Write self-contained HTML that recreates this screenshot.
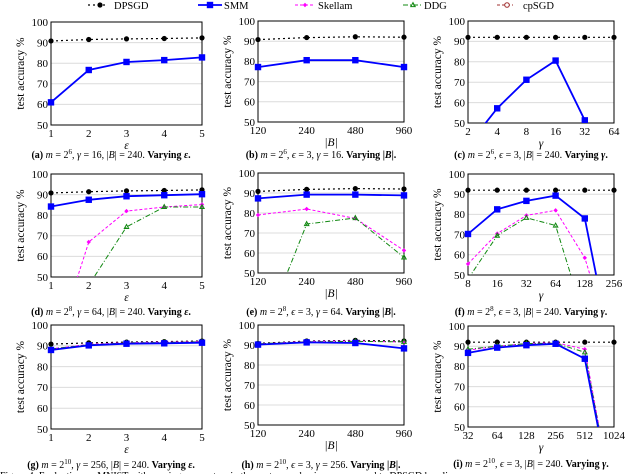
<!DOCTYPE html>
<html><head><meta charset="utf-8"><style>
html,body{margin:0;padding:0;background:#fff;width:640px;height:474px;overflow:hidden}
svg{display:block;overflow:hidden}
.tk{font-family:"Liberation Serif",serif;font-size:11px;fill:#000}
.yt{font-family:"Liberation Serif",serif;font-size:11.5px;fill:#000}
.cap{font-family:"Liberation Serif",serif;font-size:10px;fill:#000}
.lg{font-family:"Liberation Serif",serif;font-size:10.5px;fill:#000}
</style></head><body>
<svg id="fig" width="640" height="474" viewBox="0 0 640 474" xmlns="http://www.w3.org/2000/svg"></svg>
<script>
// ---- data ----
const epsTicks = [1,2,3,4,5];
const batchTicks = [120,240,480,960];
const gammaTicksC = [2,4,8,16,32,64];
const gammaTicksF = [8,16,32,64,128,256];
const gammaTicksI = [32,64,128,256,512,1024];
const yTicks = [50,60,70,80,90,100];

const aDPSGD = [90.8,91.5,91.8,92.0,92.3];
const aSMM = [61,76.7,80.6,81.5,82.8];
const bDPSGD = [90.8,91.8,92.2,92.0];
const bSMM = [77.2,80.6,80.6,77.2];
const cDPSGD = [92,92,92,92,92,92];
const cSMM = [39,57.2,71.2,80.6,51.3,null];

const dDPSGD = [90.8,91.4,91.8,92.0,92.3];
const dSMM = [84.2,87.5,89.2,89.7,90.2];
const dSkellam = [10,67,82,84,85.2];
const dDDG = [18,46,74.3,84,84];
const eDPSGD = [90.8,91.8,92.2,92.0];
const eSMM = [87.3,89.2,89.2,88.8];
const eSkellam = [79,82,77.3,61.3];
const eDDG = [13.5,74.5,77.5,57.8];
const fDPSGD = [92,92,92,92,92,92];
const fSMM = [70.3,82.5,86.7,89.3,78,6];
const fSkellam = [55.5,70.5,79.5,82,58.5,11];
const fDDG = [48,69.5,78.3,74.5,27.5,null];

const gDPSGD = [90.8,91.4,91.8,92.0,92.3];
const gSMM = [88,90.2,91,91.2,91.5];
const gSkellam = [88.5,90.7,91.5,91.8,92];
const gDDG = [88.5,90.5,91.4,91.6,91.9];
const hDPSGD = [90.8,92,92.3,92];
const hSMM = [90.2,91.3,91,88.3];
const hSkellam = [90.5,91.8,92,91.5];
const hDDG = [90.6,91.6,91.8,91.6];
const iDPSGD = [92,92,92,92,92,92];
const iSMM = [86.7,89.3,90.5,91.2,83.8,9];
const iSkellam = [88,90,91.3,91.8,88.5,10];
const iDDG = [88.5,90,91.3,91.5,87,10];

const NS='http://www.w3.org/2000/svg';
const svg=document.getElementById('fig');
function mk(tag,attrs,parent){const e=document.createElementNS(NS,tag);for(const k in attrs)e.setAttribute(k,attrs[k]);(parent||svg).appendChild(e);return e;}

const styles={
 DPSGD:{c:'#000',w:1.2,d:'2,3',m:'circle'},
 SMM:{c:'#0000ff',w:1.8,d:'',m:'square'},
 Skellam:{c:'#ff00ff',w:1,d:'3,2',m:'plus'},
 DDG:{c:'#118811',w:1,d:'5,2,1,2',m:'tri'}
};
function marker(g,type,x,y,c){
 let e;
 if(type==='circle') e=mk('circle',{cx:x,cy:y,r:2.6,fill:c},g);
 else if(type==='square') e=mk('rect',{x:x-3.2,y:y-3.2,width:6.4,height:6.4,fill:c},g);
 else if(type==='plus') e=mk('path',{d:`M${x-2.2},${y}L${x},${y-2.2}L${x+2.2},${y}L${x},${y+2.2}Z`,fill:c},g);
 else e=mk('path',{d:`M${x},${y-2.4}L${x+2.2},${y+1.6}L${x-2.2},${y+1.6}Z`,fill:'none',stroke:c,'stroke-width':1},g);
 return e;
}

const panels=[
 {id:'a',x0:51,x1:202,y0:22,y1:125,ticks:epsTicks,log:false,xt:'ε',series:{DPSGD:aDPSGD,SMM:aSMM},cx:111,cy:158,m:'6',rest:[['γ',' = 16, |'],['B','| = 240. ']],vary:'ε'},
 {id:'b',x0:258,x1:404,y0:21,y1:122,ticks:batchTicks,log:true,xt:'|B|',series:{DPSGD:bDPSGD,SMM:bSMM},cx:321,cy:158,m:'6',rest:[['ϵ',' = 3, '],['γ',' = 16. ']],vary:'|B|'},
 {id:'c',x0:468,x1:614,y0:21,y1:123,ticks:gammaTicksC,log:true,xt:'γ',series:{DPSGD:cDPSGD,SMM:cSMM},cx:531,cy:158,m:'6',rest:[['ϵ',' = 3, |'],['B','| = 240. ']],vary:'γ'},
 {id:'d',x0:51,x1:202,y0:174,y1:277,ticks:epsTicks,log:false,xt:'ε',series:{DPSGD:dDPSGD,Skellam:dSkellam,DDG:dDDG,SMM:dSMM},cx:111,cy:315,m:'8',rest:[['γ',' = 64, |'],['B','| = 240. ']],vary:'ε'},
 {id:'e',x0:258,x1:404,y0:173,y1:273,ticks:batchTicks,log:true,xt:'|B|',series:{DPSGD:eDPSGD,Skellam:eSkellam,DDG:eDDG,SMM:eSMM},cx:321,cy:315,m:'8',rest:[['ϵ',' = 3, '],['γ',' = 64. ']],vary:'|B|'},
 {id:'f',x0:468,x1:614,y0:174,y1:275,ticks:gammaTicksF,log:true,xt:'γ',series:{DPSGD:fDPSGD,Skellam:fSkellam,DDG:fDDG,SMM:fSMM},cx:531,cy:315,m:'8',rest:[['ϵ',' = 3, |'],['B','| = 240. ']],vary:'γ'},
 {id:'g',x0:51,x1:202,y0:325,y1:429,ticks:epsTicks,log:false,xt:'ε',series:{DPSGD:gDPSGD,Skellam:gSkellam,DDG:gDDG,SMM:gSMM},cx:111,cy:468,m:'10',rest:[['γ',' = 256, |'],['B','| = 240. ']],vary:'ε'},
 {id:'h',x0:258,x1:404,y0:325,y1:425,ticks:batchTicks,log:true,xt:'|B|',series:{DPSGD:hDPSGD,Skellam:hSkellam,DDG:hDDG,SMM:hSMM},cx:321,cy:468,m:'10',rest:[['ϵ',' = 3, '],['γ',' = 256. ']],vary:'|B|'},
 {id:'i',x0:468,x1:614,y0:326,y1:427,ticks:gammaTicksI,log:true,xt:'γ',series:{DPSGD:iDPSGD,Skellam:iSkellam,DDG:iDDG,SMM:iSMM},cx:531,cy:467,m:'10',rest:[['ϵ',' = 3, |'],['B','| = 240. ']],vary:'γ'}
];

const defs=mk('defs',{});
panels.forEach(p=>{
 const g=mk('g',{});
 
 
 const t0=p.ticks[0],tn=p.ticks[p.ticks.length-1];
 const f=v=>p.log?Math.log2(v):v;
 const xs=v=>p.x0+(f(v)-f(t0))/(f(tn)-f(t0))*(p.x1-p.x0);
 const ys=v=>p.y1-(v-50)/50*(p.y1-p.y0);
 const cp=mk('clipPath',{id:'clip'+p.id},defs);
 mk('rect',{x:p.x0-5,y:p.y0-5,width:p.x1-p.x0+10,height:p.y1-p.y0+5},cp);
 yTicks.forEach(v=>{
  if(v>50&&v<100){const l=mk('line',{x1:p.x0,x2:p.x1,y1:ys(v),y2:ys(v),stroke:'#dcdcdc','stroke-width':1},g);
   }
  const t=mk('text',{x:p.x0-3,y:ys(v)+3.8,'text-anchor':'end',class:'tk'},g);t.textContent=v;
  
 });
 p.ticks.forEach(v=>{
  const t=mk('text',{x:xs(v),y:p.y1+12,'text-anchor':'middle',class:'tk'},g);t.textContent=v;
  
 });
 const fr=mk('rect',{x:p.x0,y:p.y0,width:p.x1-p.x0,height:p.y1-p.y0,fill:'none',stroke:'#000','stroke-width':1},g);
 
 const yt=mk('text',{x:0,y:0,transform:`translate(${p.x0-27},${(p.y0+p.y1)/2}) rotate(-90)`,'text-anchor':'middle',class:'yt'},g);
 yt.textContent='test accuracy %';
 
 const xt=mk('text',{x:(p.x0+p.x1)/2,y:p.y1+24,'text-anchor':'middle',class:'yt','font-style':'italic'},g);
 xt.textContent=p.xt;
 
 const sg=mk('g',{'clip-path':`url(#clip${p.id})`},g);
 for(const name in p.series){
  const st=styles[name],vals=p.series[name];
  let d='';
  vals.forEach((v,i)=>{if(v===null)return;d+=(d?'L':'M')+xs(p.ticks[i]).toFixed(1)+','+ys(v).toFixed(1);});
  const pl=mk('path',{d:d,fill:'none',stroke:st.c,'stroke-width':st.w,'stroke-dasharray':st.d},sg);
  
  vals.forEach((v,i)=>{if(v===null||v<48)return;const mm=marker(sg,st.m,xs(p.ticks[i]),ys(v),st.c);
   });
 }
 const cap=mk('text',{x:p.cx,y:p.cy,'text-anchor':'middle',class:'cap'},g);
 
 let h=`<tspan font-weight="bold">(${p.id})</tspan> <tspan font-style="italic">m</tspan> = 2<tspan baseline-shift="super" font-size="7">${p.m}</tspan>, `;
 p.rest.forEach(r=>{h+=`<tspan font-style="italic">${r[0]}</tspan>${r[1]}`;});
 const vv=p.vary==='|B|'?'|<tspan font-style="italic">B</tspan>|':`<tspan font-style="italic">${p.vary}</tspan>`;
 h+=`<tspan font-weight="bold">Varying </tspan><tspan font-weight="bold">${vv}.</tspan>`;
 cap.innerHTML=h;
});

const leg=[['DPSGD',88,107,100,114],['SMM',198,222,210,224],['Skellam',295,315,305,318],['DDG',403,423,413,424],['cpSGD',497,513,507,523]];
leg.forEach(l=>{
 const g=mk('g',{});
 
 
 const st=styles[l[0]]||{c:'#a03030',w:1,d:'3,2',m:'circ'};
 mk('line',{x1:l[1],x2:l[2],y1:5,y2:5,stroke:st.c,'stroke-width':st.w,'stroke-dasharray':st.d},g);
 if(l[0]==='cpSGD') mk('circle',{cx:l[3],cy:5,r:2.3,fill:'#fff',stroke:st.c,'stroke-width':1},g);
 else marker(g,st.m,l[3],5,st.c);
 const t=mk('text',{x:l[4],y:9,class:'lg'},g);t.textContent=l[0];
});
const fc=mk('text',{x:0,y:479,class:'cap','font-size':'11'});
fc.textContent='Figure 4: Evaluation on MNIST with varying parameters in the vector mechanisms, compared to DPSGD baseline';

</script>
</body></html>
